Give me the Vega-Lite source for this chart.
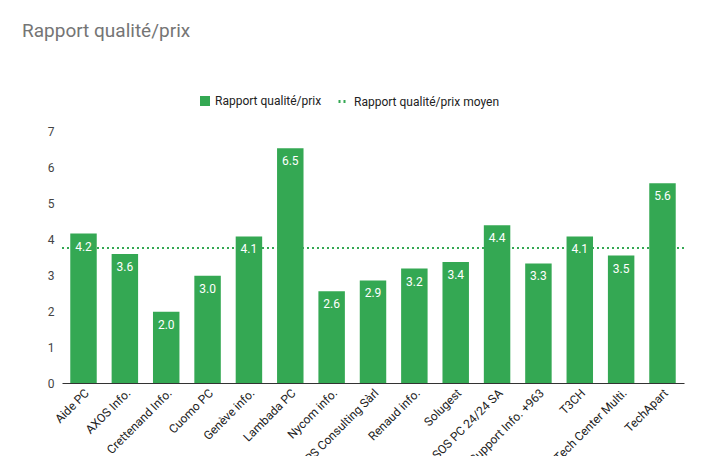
{
  "$schema": "https://vega.github.io/schema/vega-lite/v6.json",
  "width": 622,
  "height": 252,
  "padding": {"left": 22, "top": 22, "right": 18, "bottom": 5},
  "title": {"text": "Rapport qualité/prix", "anchor": "start", "frame": "group", "dx": -40, "fontSize": 19, "font": "Roboto", "fontWeight": "normal", "color": "#757575", "offset": 54},
  "data": {"values": [
    {"p": "Aide PC", "v": 4.15, "l": "4.2"},
    {"p": "AXOS Info.", "v": 3.58, "l": "3.6"},
    {"p": "Crettenand Info.", "v": 1.98, "l": "2.0"},
    {"p": "Cuomo PC", "v": 2.98, "l": "3.0"},
    {"p": "Genève info.", "v": 4.07, "l": "4.1"},
    {"p": "Lambada PC", "v": 6.52, "l": "6.5"},
    {"p": "Nycom info.", "v": 2.55, "l": "2.6"},
    {"p": "PS Consulting Sàrl", "v": 2.85, "l": "2.9"},
    {"p": "Renaud info.", "v": 3.18, "l": "3.2"},
    {"p": "Solugest", "v": 3.36, "l": "3.4"},
    {"p": "SOS PC 24/24 SA", "v": 4.38, "l": "4.4"},
    {"p": "Support Info. +963", "v": 3.32, "l": "3.3"},
    {"p": "T3CH", "v": 4.07, "l": "4.1"},
    {"p": "Tech Center Multi.", "v": 3.54, "l": "3.5"},
    {"p": "TechApart", "v": 5.55, "l": "5.6"}
  ]},
  "encoding": {
    "x": {"field": "p", "type": "nominal", "sort": null, "title": null,
      "scale": {"paddingInner": 0.36, "paddingOuter": 0.2},
      "axis": {"labelAngle": -45, "labelAlign": "right", "labelBaseline": "top", "labelFontSize": 12, "labelColor": "#222", "labelFont": "Roboto", "ticks": false, "domainColor": "#333", "labelPadding": 4}}
  },
  "layer": [
    {
      "mark": {"type": "rule", "color": "#34a853", "strokeWidth": 2, "strokeDash": [2, 3]},
      "encoding": {
        "y": {"datum": 3.75},
        "x": {},
        "strokeDash": {"datum": "Rapport qualité/prix moyen", "scale": {"range": [[2, 3]]},
          "legend": {"title": null, "orient": "none", "legendX": 275, "legendY": -36, "symbolStrokeColor": "#34a853", "symbolStrokeWidth": 3, "labelFontSize": 12, "labelFont": "Roboto", "labelColor": "#222"}}
      }
    },
    {
      "mark": {"type": "bar", "color": "#34a853"},
      "encoding": {
        "y": {"field": "v", "type": "quantitative", "title": null,
          "scale": {"domain": [0, 7]},
          "axis": {"tickCount": 7, "ticks": false, "domain": false, "gridColor": "#ccc", "labelFontSize": 12, "labelColor": "#444", "labelFont": "Roboto", "labelPadding": 8}},
        "color": {"datum": "Rapport qualité/prix", "scale": {"range": ["#34a853"]},
          "legend": {"title": null, "orient": "none", "legendX": 137, "legendY": -36, "symbolType": "square", "labelFontSize": 12, "labelFont": "Roboto", "labelColor": "#222"}}
      }
    },
    {
      "mark": {"type": "text", "color": "white", "baseline": "top", "dy": 8, "fontSize": 12, "font": "Roboto"},
      "encoding": {"y": {"field": "v", "type": "quantitative"}, "text": {"field": "l"}}
    }
  ],
  "resolve": {"legend": {"color": "independent"}},
  "config": {"view": {"stroke": null}}
}
